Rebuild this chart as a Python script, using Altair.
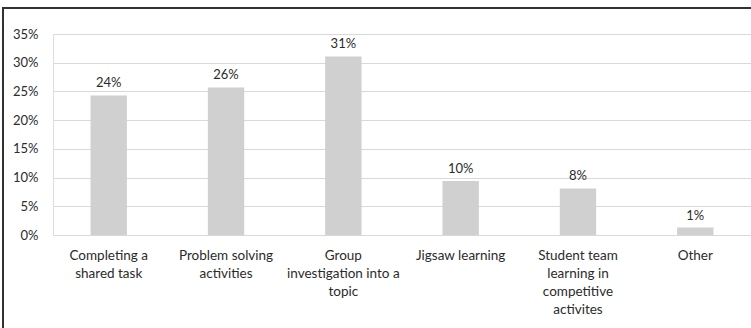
import altair as alt
import pandas as pd

categories = ["Completing a shared task", "Problem solving activities",
              "Group investigation into a topic", "Jigsaw learning",
              "Student team learning in competitive activites", "Other"]
wrapped = ["Completing a|shared task", "Problem solving|activities",
           "Group|investigation into a|topic", "Jigsaw learning",
           "Student team|learning in|competitive|activites", "Other"]
values = [24.3, 25.7, 31.1, 9.4, 8.1, 1.3]
value_labels = ["24%", "26%", "31%", "10%", "8%", "1%"]
y_ticks = [0, 5, 10, 15, 20, 25, 30, 35]

df = pd.DataFrame({"cat": wrapped, "v": values, "lab": value_labels})

FONT = "Lato"
TXT = "#2b2b2b"

x = alt.X("cat:N", sort=wrapped, title=None,
          scale=alt.Scale(paddingInner=0.69, paddingOuter=0.32),
          axis=alt.Axis(labelExpr="split(datum.label, '|')", labelAngle=0,
                        domain=False, ticks=False, labelPadding=13,
                        labelFont=FONT, labelFontSize=13.5, labelColor=TXT,
                        labelLineHeight=18, labelBaseline="top", labelLimit=200))
y = alt.Y("v:Q", title=None,
          scale=alt.Scale(domain=[0, 35], nice=False),
          axis=alt.Axis(values=y_ticks, tickCount=8, labelOverlap=False,
                        labelExpr="datum.value + '%'", domain=False, ticks=False,
                        labelPadding=15, grid=True, gridColor="#d9d9d9", gridWidth=1.2,
                        labelFont=FONT, labelFontSize=13, labelColor=TXT))

base = alt.Chart(df).encode(x=x, y=y)
bars = base.mark_bar(color="#d0d0d0")
text = base.mark_text(dy=-12, font=FONT, fontSize=13, color=TXT).encode(text="lab:N")

border = alt.Chart(df).mark_rect(fill=None, stroke="#333333", strokeWidth=1.5).encode(
    x=alt.value(-50), x2=alt.value(760), y=alt.value(-26), y2=alt.value(330))

chart = alt.layer(border, bars, text).properties(
    width=698, height=201,
    autosize=alt.AutoSizeParams(type="none"),
    padding={"left": 53, "top": 34, "right": 0, "bottom": 93},
).configure_view(stroke=None).configure(background="white")

chart.save("out.html", embed_options={"renderer": "svg", "actions": False})
